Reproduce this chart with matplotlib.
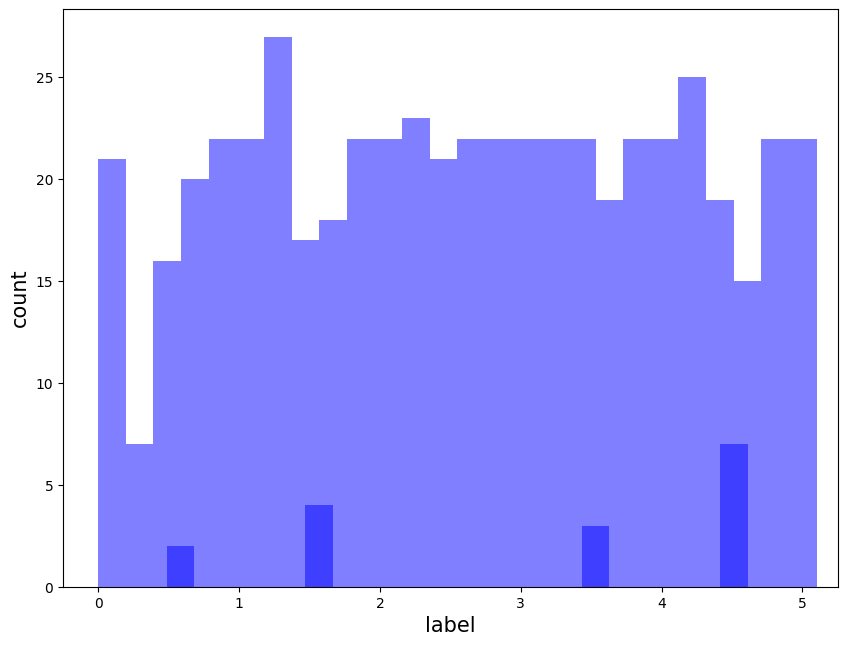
import numpy as np
import matplotlib
matplotlib.use("Agg")
import matplotlib.pyplot as plt

# main histogram: 26 equal bins from 0 to 5.1
main_range = (0.0, 5.1)
main_counts = [21, 7, 16, 20, 22, 22, 27, 17, 18, 22, 22, 23, 21,
               22, 22, 22, 22, 22, 19, 22, 22, 25, 19, 15, 22, 22]

# second histogram: 21 bins from 0.485 to 4.61, only four are non-empty
small_range = (0.485, 4.61)
small_counts = [2, 0, 0, 0, 0, 4, 0, 0, 0, 0, 0,
                0, 0, 0, 0, 3, 0, 0, 0, 0, 7]


def hist_from_counts(ax, counts, lo_hi, **kw):
    edges = np.linspace(lo_hi[0], lo_hi[1], len(counts) + 1)
    ax.hist(edges[:-1], bins=edges, weights=counts, **kw)


def main():
    fig, ax = plt.subplots(figsize=(8.47, 6.46), dpi=100)
    fig.subplots_adjust(left=0.0744, right=0.989, top=0.986, bottom=0.0913)

    hist_from_counts(ax, main_counts, main_range, color='blue', alpha=0.5)
    hist_from_counts(ax, small_counts, small_range, color='blue', alpha=0.5)

    ax.set_xlim(-0.25, 5.25)
    ax.set_xlabel('label', fontsize=15)
    ax.set_ylabel('count', fontsize=15)
    fig.savefig('out.png', dpi=100)
    plt.close(fig)


if __name__ == "__main__":
    main()
